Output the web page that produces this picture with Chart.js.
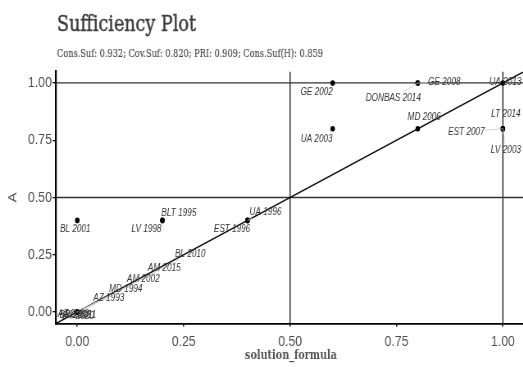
<!DOCTYPE html>
<html>
<head>
<meta charset="utf-8">
<script src="https://cdn.jsdelivr.net/npm/chart.js@4.4.1/dist/chart.umd.min.js"></script>
<style>
  html, body { margin: 0; padding: 0; background: #fff; overflow: hidden; width: 523px; height: 367px; }
  #wrap { width: 642px; height: 367px; transform: scaleX(0.82); transform-origin: 0 0; }
  canvas { display: block; }
</style>
</head>
<body>
<div id="wrap"><canvas id="chart" width="642" height="367"></canvas></div>
<script>
// Cases: membership in the solution formula (x) and in outcome A (y)
const caseNames = [
  'BL 2001', 'BLT 1995', 'LV 1998', 'UA 1996', 'EST 1996',
  'GE 2002', 'UA 2003', 'GE 2008', 'DONBAS 2014', 'MD 2006',
  'UA 2013', 'LT 2014', 'EST 2007', 'LV 2003',
  'BL 2010', 'AM 2015', 'AM 2002', 'MD 1994', 'AZ 1993',
  'BY 2006', 'BY 2020', 'AZ 2003', 'RU 2011'
];
const solutionValues = [
  0.0, 0.2, 0.2, 0.4, 0.4,
  0.6, 0.6, 0.8, 0.8, 0.8,
  1.0, 1.0, 1.0, 1.0,
  0.0, 0.0, 0.0, 0.0, 0.0,
  0.0, 0.0, 0.0, 0.0
];
const outcomeValues = [
  0.4, 0.4, 0.4, 0.4, 0.4,
  1.0, 0.8, 1.0, 1.0, 0.8,
  1.0, 0.8, 0.8, 0.8,
  0.0, 0.0, 0.0, 0.0, 0.0,
  0.0, 0.0, 0.0, 0.0
];
const tickValues = [0, 0.25, 0.5, 0.75, 1];
const tickLabels = ['0.00', '0.25', '0.50', '0.75', '1.00'];
const referenceLines = [0.5, 1];
const plotTitle = 'Sufficiency Plot';
const fitStats = 'Cons.Suf: 0.932; Cov.Suf: 0.820; PRI: 0.909; Cons.Suf(H): 0.859';
const xTitle = 'solution_formula';

// Layout: horizontal squeeze of the page, axis range, repelled label offsets (screen px)
const SX = 0.82;
const AXIS_MIN = -0.05, AXIS_MAX = 1.05;
const labelOffsets = [
  [-2, 9], [16.5, -7], [-16, 9], [18, -8], [-15.5, 9],
  [-16, 9], [-16, 10], [26.5, -1], [-24.5, 15], [6.5, -12],
  [2.5, -1], [3, -15], [-36.5, 3], [3, 21],
  [113, -58], [87, -44], [66, -33], [48.5, -23], [31.5, -14],
  [-2, 3], [1, 4], [-4, 2], [3, 3]
];

// Serif text squeezed or stretched to a given on-screen width
function drawFitted(ctx, text, font, color, x, baseline, width, align, weight) {
  ctx.save();
  ctx.font = font;
  ctx.fillStyle = color;
  ctx.strokeStyle = color;
  ctx.textBaseline = 'alphabetic';
  ctx.textAlign = 'left';
  const k = (width / SX) / ctx.measureText(text).width;
  const left = align === 'center' ? (x - width / 2) / SX : x / SX;
  ctx.translate(left, baseline);
  ctx.scale(k, 1);
  ctx.fillText(text, 0, 0);
  if (weight) {
    ctx.lineWidth = weight;
    ctx.strokeText(text, 0, 0);
  }
  ctx.restore();
}

const guideLines = {
  id: 'guideLines',
  beforeDatasetsDraw(chart) {
    const { ctx, chartArea: a, scales: { x, y } } = chart;
    ctx.save();
    ctx.beginPath();
    ctx.rect(a.left, a.top, a.right - a.left, a.bottom - a.top);
    ctx.clip();
    ctx.strokeStyle = '#333';
    referenceLines.forEach(v => {
      ctx.lineWidth = 1.3;
      ctx.beginPath();
      ctx.moveTo(a.left, y.getPixelForValue(v));
      ctx.lineTo(a.right, y.getPixelForValue(v));
      ctx.stroke();
      ctx.lineWidth = 1.5;
      ctx.beginPath();
      ctx.moveTo(x.getPixelForValue(v), a.top);
      ctx.lineTo(x.getPixelForValue(v), a.bottom);
      ctx.stroke();
    });
    // y = x diagonal
    ctx.strokeStyle = '#111';
    ctx.lineWidth = 1.4;
    ctx.beginPath();
    ctx.moveTo(x.getPixelForValue(AXIS_MIN), y.getPixelForValue(AXIS_MIN));
    ctx.lineTo(x.getPixelForValue(AXIS_MAX), y.getPixelForValue(AXIS_MAX));
    ctx.stroke();
    ctx.restore();
  }
};

const caseLabels = {
  id: 'caseLabels',
  afterDatasetsDraw(chart) {
    const { ctx, scales: { x, y } } = chart;
    ctx.save();
    ctx.font = 'italic 10px "Liberation Sans", Arial, sans-serif';
    ctx.textAlign = 'center';
    ctx.textBaseline = 'middle';
    caseNames.forEach((name, i) => {
      const px = x.getPixelForValue(solutionValues[i]);
      const py = y.getPixelForValue(outcomeValues[i]);
      const [dx, dy] = labelOffsets[i];
      const lx = px + dx / SX, ly = py + dy;
      if (Math.hypot(dx, dy) > 19) {
        const hw = ctx.measureText(name).width / 2 + 1, hh = 6;
        const vx = px - lx, vy = py - ly;
        const t = Math.min(hw / Math.abs(vx || 1e-9), hh / Math.abs(vy || 1e-9), 1);
        ctx.strokeStyle = '#c9c9c9';
        ctx.lineWidth = 0.8;
        ctx.beginPath();
        ctx.moveTo(px, py);
        ctx.lineTo(lx + vx * t, ly + vy * t);
        ctx.stroke();
      }
      ctx.fillStyle = '#333';
      ctx.fillText(name, lx, ly);
    });
    ctx.restore();
  },
  afterDraw(chart) {
    const { ctx } = chart;
    drawFitted(ctx, plotTitle, '22px "DejaVu Serif", serif', '#3f3f3f', 57, 31, 139, 'left', 0.5);
    drawFitted(ctx, fitStats, '11px "DejaVu Serif", serif', '#4d4d4d', 57, 57, 266, 'left', 0.2);
    drawFitted(ctx, xTitle, 'bold 13px "DejaVu Serif", serif', '#555', 291, 359, 92, 'center');
  }
};

const tickFont = { family: '"Liberation Sans", Arial, sans-serif', size: 15 };

new Chart(document.getElementById('chart'), {
  type: 'scatter',
  data: {
    datasets: [{
      data: caseNames.map((n, i) => ({ x: solutionValues[i], y: outcomeValues[i] })),
      pointRadius: 2.8,
      pointHoverRadius: 2.8,
      backgroundColor: '#000',
      borderWidth: 0
    }]
  },
  options: {
    responsive: false,
    animation: false,
    devicePixelRatio: 1,
    layout: { padding: { top: 71.5, left: 0, right: 0, bottom: 0 } },
    plugins: { legend: { display: false }, tooltip: { enabled: false } },
    scales: {
      x: {
        type: 'linear',
        min: AXIS_MIN,
        max: AXIS_MAX,
        afterBuildTicks: s => { s.ticks = tickValues.map(v => ({ value: v })); },
        afterFit: s => { s.height = 43.5; },
        ticks: {
          callback: (v, i) => tickLabels[i],
          font: tickFont, color: '#4d4d4d', padding: 6, maxRotation: 0, autoSkip: false
        },
        grid: { drawOnChartArea: false, drawTicks: true, tickLength: 3, color: '#000', lineWidth: 1.6 },
        border: { color: '#000', width: 1.8 },
        title: { display: false }
      },
      y: {
        type: 'linear',
        min: AXIS_MIN,
        max: AXIS_MAX,
        afterBuildTicks: s => { s.ticks = tickValues.map(v => ({ value: v })); },
        afterFit: s => { s.width = 56 / SX; },
        ticks: {
          callback: (v, i) => tickLabels[i],
          font: tickFont, color: '#4d4d4d', padding: 1, autoSkip: false
        },
        grid: { drawOnChartArea: false, drawTicks: true, tickLength: 4, color: '#000', lineWidth: 1.3 },
        border: { color: '#000', width: 2.2 },
        title: {
          display: true, text: 'A', color: '#555',
          font: { family: '"Liberation Sans", Arial, sans-serif', size: 15 },
          padding: { top: 7, bottom: 0 }
        }
      }
    }
  },
  plugins: [guideLines, caseLabels]
});
</script>
</body>
</html>
